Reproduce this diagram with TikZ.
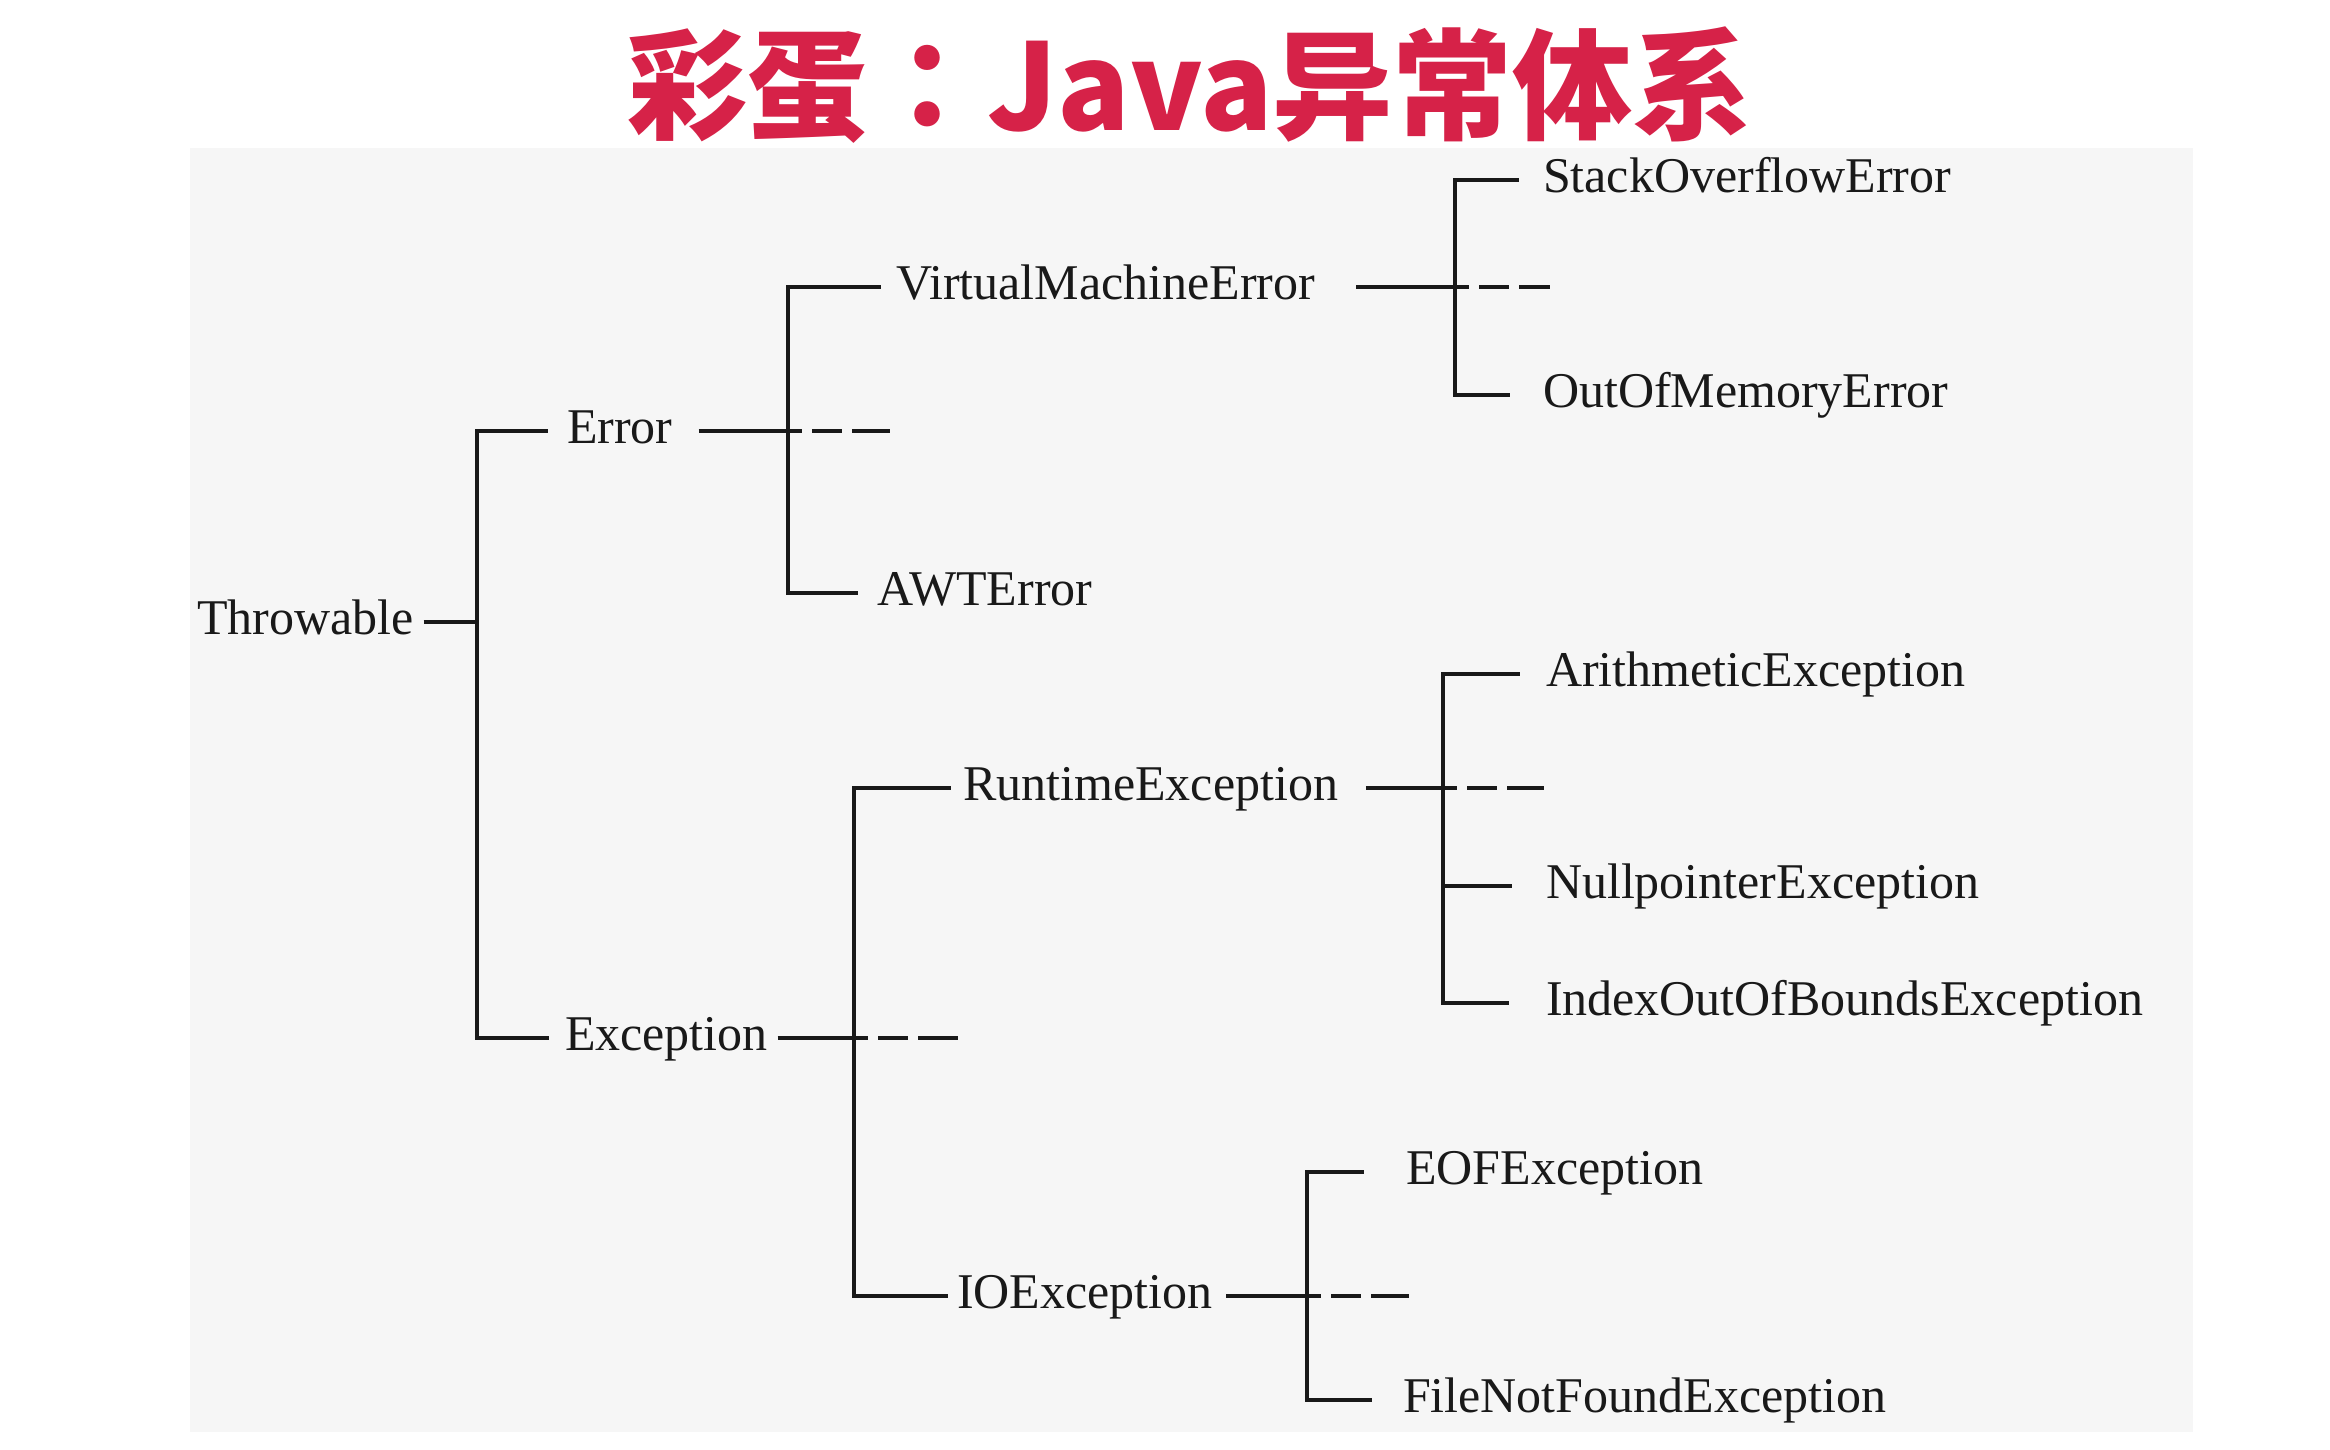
\documentclass[tikz,border=0pt]{standalone}
\usepackage{fontspec}
\setmainfont{Liberation Serif}
\newfontfamily\cjkfont{Noto Sans CJK SC}
\newfontfamily\cjktcfont{Noto Sans CJK TC}
\definecolor{titlered}{RGB}{214,34,72}
\definecolor{bggray}{RGB}{246,246,246}
\definecolor{ink}{RGB}{25,25,25}
\begin{document}
\begin{tikzpicture}[x=0.5pt,y=-0.5pt,
  cls/.style={anchor=west, inner sep=0pt, outer sep=0pt,
    font=\fontsize{25pt}{30pt}\selectfont, text=ink,
    text height=18.5pt, text depth=6.5pt},
  link/.style={draw=ink, line width=1.7pt},
  tail/.style={draw=ink, line width=1.7pt, dash pattern=on 7pt off 5pt on 15pt off 5pt on 20pt off 5pt},
  titlestyle/.style={font=\cjkfont\bfseries\fontsize{60pt}{70pt}\selectfont, text=titlered, anchor=base, inner sep=0pt}
]
\useasboundingbox (0,0) rectangle (2330,1450);
\fill[white] (0,0) rectangle (2330,1450);
\fill[bggray] (190,148) rectangle (2193,1432);

\node[titlestyle] (title) at (1190,131) {彩蛋{\cjktcfont\bfseries ：}Java异常体系};

% class nodes
\node[cls] (thr) at (197,622) {Throwable};
\node[cls] (err) at (567,431) {Error};
\node[cls] (exc) at (565,1038) {Exception};
\node[cls] (vme) at (896,287) {VirtualMachineError};
\node[cls] (awt) at (877,593) {AWTError};
\node[cls] (soe) at (1543,180) {StackOverflowError};
\node[cls] (oom) at (1543,395) {OutOfMemoryError};
\node[cls] (rte) at (963,788) {RuntimeException};
\node[cls] (ari) at (1546,674) {ArithmeticException};
\node[cls] (npe) at (1546,886) {NullpointerException};
\node[cls] (ioo) at (1546,1003) {IndexOutOfBoundsException};
\node[cls] (ioe) at (957,1296) {IOException};
\node[cls] (eof) at (1406,1172) {EOFException};
\node[cls] (fnf) at (1403,1400) {FileNotFoundException};

% junctions and dashed tail ends
\coordinate (j1) at (477,622);
\coordinate (j2) at (788,431);
\coordinate (j3) at (1455,287);
\coordinate (j4) at (854,1038);
\coordinate (j5) at (1443,788);
\coordinate (j6) at (1307,1296);
\coordinate (t2) at (890,431);
\coordinate (t3) at (1550,287);
\coordinate (t4) at (959,1038);
\coordinate (t5) at (1544,788);
\coordinate (t6) at (1409,1296);

% Throwable
\draw[link] ([xshift=5pt]thr.east) -- (j1);
\draw[link] (j1) |- ([xshift=-9.5pt]err.west);
\draw[link] (j1) |- ([xshift=-8pt]exc.west);

% Error
\draw[link] ([xshift=13pt]err.east) -- (j2);
\draw[tail] (j2) -- (t2);
\draw[link] (j2) |- ([xshift=-7.5pt]vme.west);
\draw[link] (j2) |- ([xshift=-9.5pt]awt.west);

% VirtualMachineError
\draw[link] ([xshift=20.5pt]vme.east) -- (j3);
\draw[tail] (j3) -- (t3);
\draw[link] (j3) |- ([xshift=-12pt]soe.west);
\draw[link] (j3) |- ([xshift=-16.5pt]oom.west);

% Exception
\draw[link] ([xshift=5pt]exc.east) -- (j4);
\draw[tail] (j4) -- (t4);
\draw[link] (j4) |- ([xshift=-6pt]rte.west);
\draw[link] (j4) |- ([xshift=-4.5pt]ioe.west);

% RuntimeException
\draw[link] ([xshift=14pt]rte.east) -- (j5);
\draw[tail] (j5) -- (t5);
\draw[link] (j5) |- ([xshift=-13pt]ari.west);
\draw[link] (j5) |- ([xshift=-17pt]npe.west);
\draw[link] (j5) |- ([xshift=-18.5pt]ioo.west);

% IOException
\draw[link] ([xshift=7pt]ioe.east) -- (j6);
\draw[tail] (j6) -- (t6);
\draw[link] (j6) |- ([xshift=-21pt]eof.west);
\draw[link] (j6) |- ([xshift=-15.5pt]fnf.west);
\end{tikzpicture}
\end{document}
